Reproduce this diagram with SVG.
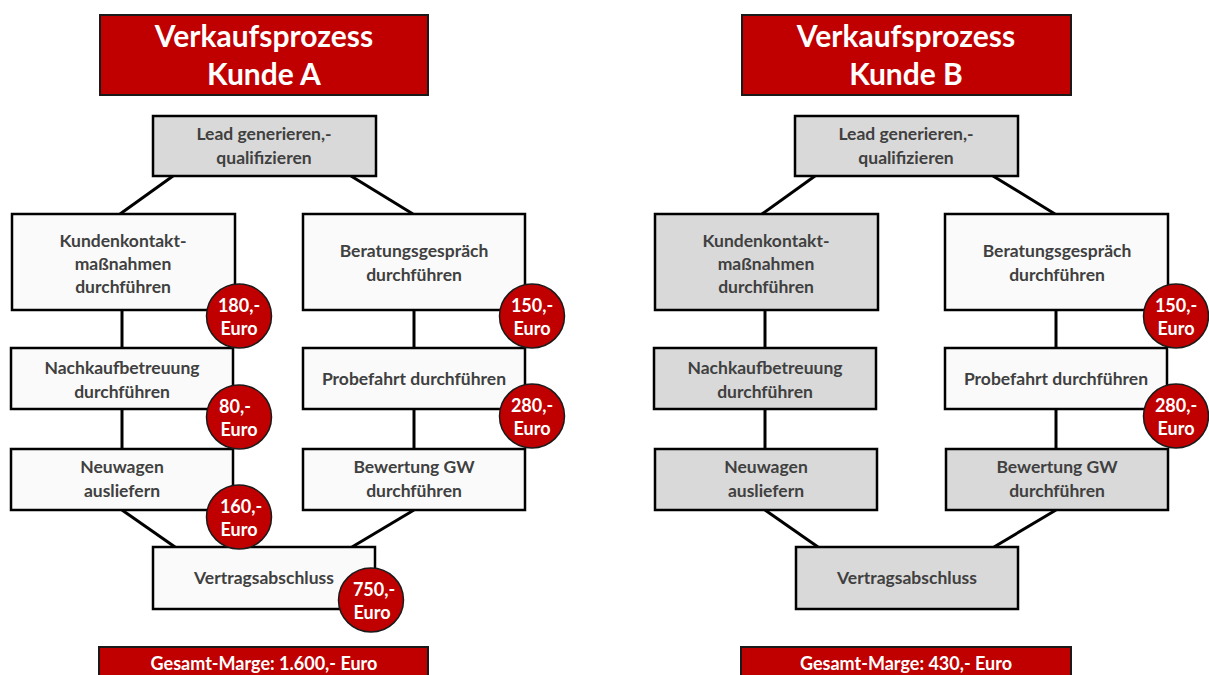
<svg xmlns="http://www.w3.org/2000/svg" width="1209" height="675" viewBox="0 0 1209 675">
  <style>
    .title { fill: #C00000; stroke: #1a1a1a; stroke-width: 2; }
    .title-text { font-family: Lato, "Open Sans", sans-serif; font-weight: bold; font-size: 30px; fill: #ffffff; text-anchor: middle; }
    .box { stroke: #000000; stroke-width: 2.5; }
    .grey { fill: #D9D9D9; }
    .white { fill: #FAFAFA; }
    .label { font-family: Lato, "Open Sans", sans-serif; font-weight: bold; font-size: 17.5px; fill: #404040; text-anchor: middle; }
    .badge { fill: #C00000; stroke: #1a1a1a; stroke-width: 1.5; }
    .badge-text { font-family: Lato, "Open Sans", sans-serif; font-weight: bold; font-size: 18px; fill: #ffffff; text-anchor: middle; }
    .total-text { font-family: Lato, "Open Sans", sans-serif; font-weight: bold; font-size: 18px; fill: #ffffff; text-anchor: middle; }
    .conn { stroke: #000000; stroke-width: 3; fill: none; }
  </style>
  <rect width="1209" height="675" fill="#ffffff"/>

  <!-- Customer A -->
  <g id="panel-a">
    <g id="connectors-a">
      <line class="conn" x1="173" y1="176" x2="120" y2="214"/>
      <line class="conn" x1="351" y1="176" x2="413" y2="214"/>
      <line class="conn" x1="122" y1="310" x2="122" y2="348"/>
      <line class="conn" x1="122" y1="409" x2="122" y2="449"/>
      <line class="conn" x1="414" y1="310" x2="414" y2="348"/>
      <line class="conn" x1="414" y1="409" x2="414" y2="449"/>
      <line class="conn" x1="122" y1="510" x2="175" y2="547"/>
      <line class="conn" x1="414" y1="510" x2="352" y2="547"/>
    </g>
    <g id="title-a">
      <rect class="title" x="100" y="15" width="328" height="80"/>
      <text class="title-text" x="264" y="47">Verkaufsprozess</text>
      <text class="title-text" x="264" y="85">Kunde A</text>
    </g>
    <g id="lead-a">
      <rect class="box grey" x="153" y="116" width="223" height="60"/>
      <text class="label" x="264" y="140">Lead generieren,-</text>
      <text class="label" x="264" y="164">qualifizieren</text>
    </g>
    <g id="kontakt-a">
      <rect class="box white" x="12" y="214" width="223" height="96"/>
      <text class="label" x="123" y="247">Kundenkontakt-</text>
      <text class="label" x="123" y="270">maßnahmen</text>
      <text class="label" x="123" y="293">durchführen</text>
    </g>
    <g id="beratung-a">
      <rect class="box white" x="303" y="214" width="222" height="96"/>
      <text class="label" x="414" y="257">Beratungsgespräch</text>
      <text class="label" x="414" y="281">durchführen</text>
    </g>
    <g id="nachkauf-a">
      <rect class="box white" x="11" y="348" width="222" height="61"/>
      <text class="label" x="122" y="374">Nachkaufbetreuung</text>
      <text class="label" x="122" y="398">durchführen</text>
    </g>
    <g id="probefahrt-a">
      <rect class="box white" x="303" y="348" width="222" height="61"/>
      <text class="label" x="414" y="385">Probefahrt durchführen</text>
    </g>
    <g id="neuwagen-a">
      <rect class="box white" x="11" y="449" width="222" height="61"/>
      <text class="label" x="122" y="473">Neuwagen</text>
      <text class="label" x="122" y="497">ausliefern</text>
    </g>
    <g id="bewertung-a">
      <rect class="box white" x="303" y="449" width="222" height="61"/>
      <text class="label" x="414" y="473">Bewertung GW</text>
      <text class="label" x="414" y="497">durchführen</text>
    </g>
    <g id="vertrag-a">
      <rect class="box white" x="153" y="547" width="222" height="62"/>
      <text class="label" x="264" y="584">Vertragsabschluss</text>
    </g>
    <g id="badges-a">
      <ellipse class="badge" cx="239" cy="316" rx="32.5" ry="32"/>
      <text class="badge-text" x="239" y="312">180,-</text>
      <text class="badge-text" x="239" y="335">Euro</text>
      <ellipse class="badge" cx="532" cy="316" rx="32.5" ry="32"/>
      <text class="badge-text" x="532" y="312">150,-</text>
      <text class="badge-text" x="532" y="335">Euro</text>
      <ellipse class="badge" cx="239" cy="417" rx="32.5" ry="32"/>
      <text class="badge-text" x="235" y="413">80,-</text>
      <text class="badge-text" x="239" y="436">Euro</text>
      <ellipse class="badge" cx="532" cy="416" rx="32.5" ry="32"/>
      <text class="badge-text" x="532" y="412">280,-</text>
      <text class="badge-text" x="532" y="435">Euro</text>
      <ellipse class="badge" cx="239" cy="517" rx="32.5" ry="32"/>
      <text class="badge-text" x="241" y="513">160,-</text>
      <text class="badge-text" x="239" y="536">Euro</text>
      <ellipse class="badge" cx="371" cy="600" rx="32.5" ry="32"/>
      <text class="badge-text" x="374" y="596">750,-</text>
      <text class="badge-text" x="372" y="619">Euro</text>
    </g>
    <g id="total-a">
      <rect class="title" x="99" y="647" width="329" height="40"/>
      <text class="total-text" x="264" y="670">Gesamt-Marge: 1.600,- Euro</text>
    </g>
  </g>

  <!-- Customer B -->
  <g id="panel-b">
    <g id="connectors-b">
      <line class="conn" x1="815" y1="176" x2="762" y2="214"/>
      <line class="conn" x1="993" y1="176" x2="1055" y2="214"/>
      <line class="conn" x1="765" y1="310" x2="765" y2="348"/>
      <line class="conn" x1="765" y1="409" x2="765" y2="449"/>
      <line class="conn" x1="1056" y1="310" x2="1056" y2="348"/>
      <line class="conn" x1="1056" y1="409" x2="1056" y2="449"/>
      <line class="conn" x1="765" y1="510" x2="818" y2="547"/>
      <line class="conn" x1="1056" y1="510" x2="994" y2="547"/>
    </g>
    <g id="title-b">
      <rect class="title" x="742" y="15" width="329" height="80"/>
      <text class="title-text" x="906" y="47">Verkaufsprozess</text>
      <text class="title-text" x="906" y="85">Kunde B</text>
    </g>
    <g id="lead-b">
      <rect class="box grey" x="795" y="116" width="223" height="60"/>
      <text class="label" x="906" y="140">Lead generieren,-</text>
      <text class="label" x="906" y="164">qualifizieren</text>
    </g>
    <g id="kontakt-b">
      <rect class="box grey" x="655" y="214" width="223" height="96"/>
      <text class="label" x="766" y="247">Kundenkontakt-</text>
      <text class="label" x="766" y="270">maßnahmen</text>
      <text class="label" x="766" y="293">durchführen</text>
    </g>
    <g id="beratung-b">
      <rect class="box white" x="945" y="214" width="223" height="96"/>
      <text class="label" x="1057" y="257">Beratungsgespräch</text>
      <text class="label" x="1057" y="281">durchführen</text>
    </g>
    <g id="nachkauf-b">
      <rect class="box grey" x="654" y="348" width="222" height="61"/>
      <text class="label" x="765" y="374">Nachkaufbetreuung</text>
      <text class="label" x="765" y="398">durchführen</text>
    </g>
    <g id="probefahrt-b">
      <rect class="box white" x="945" y="348" width="222" height="61"/>
      <text class="label" x="1056" y="385">Probefahrt durchführen</text>
    </g>
    <g id="neuwagen-b">
      <rect class="box grey" x="655" y="449" width="222" height="61"/>
      <text class="label" x="766" y="473">Neuwagen</text>
      <text class="label" x="766" y="497">ausliefern</text>
    </g>
    <g id="bewertung-b">
      <rect class="box grey" x="946" y="449" width="222" height="61"/>
      <text class="label" x="1057" y="473">Bewertung GW</text>
      <text class="label" x="1057" y="497">durchführen</text>
    </g>
    <g id="vertrag-b">
      <rect class="box grey" x="796" y="547" width="222" height="62"/>
      <text class="label" x="907" y="584">Vertragsabschluss</text>
    </g>
    <g id="badges-b">
      <ellipse class="badge" cx="1176" cy="316" rx="32.5" ry="32"/>
      <text class="badge-text" x="1176" y="312">150,-</text>
      <text class="badge-text" x="1176" y="335">Euro</text>
      <ellipse class="badge" cx="1176" cy="416" rx="32.5" ry="32"/>
      <text class="badge-text" x="1176" y="412">280,-</text>
      <text class="badge-text" x="1176" y="435">Euro</text>
    </g>
    <g id="total-b">
      <rect class="title" x="741" y="647" width="330" height="40"/>
      <text class="total-text" x="906" y="670">Gesamt-Marge: 430,- Euro</text>
    </g>
  </g>
</svg>
